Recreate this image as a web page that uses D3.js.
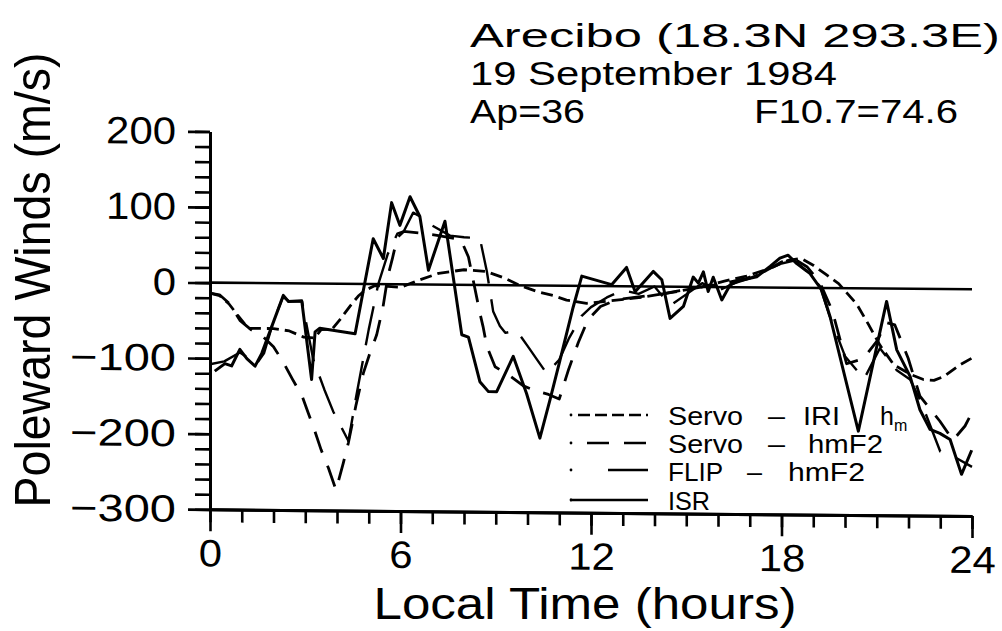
<!DOCTYPE html>
<html>
<head>
<meta charset="utf-8">
<script src="https://cdn.jsdelivr.net/npm/d3@7"></script>
<style>
  html, body { margin: 0; padding: 0; background: #fff; }
  svg { display: block; }
  text { font-family: "Liberation Sans", Arial, sans-serif; fill: #000; }
</style>
</head>
<body>
<svg id="chart" width="1002" height="631"></svg>
<script>
// Axis ticks
const hourTicks = [0, 6, 12, 18, 24];
const windTicks = [200, 100, 0, -100, -200, -300];

// Header text
const siteLabel = "Arecibo (18.3N  293.3E)";
const dateLabel = "19 September 1984";
const apLabel = "Ap=36";
const fluxLabel = "F10.7=74.6";

// Poleward winds (m/s) versus local time (hours)
const isr = [[0.15,-117],[0.47,-107],[0.68,-110],[0.94,-88],[1.16,-100],[1.42,-110],[1.63,-93],[2.31,-16],[2.47,-24],[2.89,-23],[3.2,-127],[3.31,-64],[3.46,-59],[4.57,-66],[5.14,60],[5.46,34],[5.72,108],[5.98,78],[6.3,116],[6.61,90],[6.88,19],[7.4,84],[7.93,-66],[8.14,-69],[8.5,-128],[8.77,-141],[9.03,-141],[9.55,-94],[9.97,-143],[10.39,-202],[10.71,-151],[11.02,-99],[11.44,-28],[11.71,13],[12.65,2],[13.12,25],[13.39,-7],[13.96,20],[14.23,9],[14.49,-42],[14.91,-26],[15.22,13],[15.38,5],[15.54,20],[15.69,-6],[15.85,13],[16.12,-17],[16.38,3],[16.69,9],[17.22,14],[17.64,28],[17.95,39],[18.21,43],[18.48,32],[18.9,19],[19.27,-3],[19.53,-38],[20.42,-189],[21.31,-17],[21.63,-81],[22.05,-116],[22.36,-160],[22.68,-186],[22.99,-191],[23.31,-199],[23.67,-245],[23.99,-213]];

const servoIri = [[0,-14],[0.3,-17],[0.6,-28],[0.95,-47],[1.2,-60],[2.0,-60],[2.5,-63],[2.95,-71],[3.3,-72],[3.5,-61],[3.85,-60],[4.1,-47],[4.4,-30],[4.67,-16],[4.9,-8],[5.2,-2],[5.6,-3],[6.0,-4],[6.6,6],[7.2,15],[8.0,20],[8.7,18],[9.24,10],[9.76,0],[10.3,-8],[10.81,-13],[11.23,-19],[11.86,-23],[12.5,-20],[13.5,-15],[14.5,-8],[15.5,0],[16.2,8],[16.9,15],[17.6,25],[18.2,36],[18.61,39],[19.0,30],[19.4,18],[19.8,6],[20.37,-21],[20.73,-47],[21.1,-75],[21.54,-101],[22.1,-114],[22.47,-120],[22.8,-121],[23.1,-116],[23.62,-100],[24,-91]];

const servoHmf2 = [[0,-14],[0.3,-16],[0.6,-27],[0.95,-50],[1.3,-62],[1.65,-70],[2.0,-84],[2.3,-104],[2.6,-127],[2.9,-149],[3.1,-172],[3.3,-195],[3.5,-220],[3.73,-244],[3.97,-273],[4.2,-237],[4.36,-210],[4.6,-160],[4.83,-118],[5.04,-91],[5.25,-67],[5.45,-30],[5.6,10],[5.75,35],[5.9,62],[6.1,70],[6.6,68],[7.2,65],[7.9,60],[8.14,37],[8.5,-37],[8.6,-55],[8.72,-81],[8.98,-108],[9.45,-120],[9.87,-133],[10.3,-140],[10.66,-144],[11.0,-150],[11.3,-110],[11.6,-75],[11.9,-45],[12.3,-27],[12.8,-18],[13.5,-14],[14.2,-10],[14.8,-5],[15.5,0],[16.2,5],[16.9,12],[17.5,22],[18.0,34],[18.4,38],[18.8,28],[19.2,8],[19.6,-30],[20.05,-100],[20.58,-93],[21.0,-70],[21.3,-45],[21.57,-48],[21.99,-92],[22.36,-142],[22.99,-175],[23.4,-200],[23.78,-181],[24,-163]];

const flipHmf2 = [[0,-108],[0.45,-104],[0.94,-92],[1.16,-98],[1.45,-108],[1.7,-93],[2.0,-50],[2.3,-18],[2.5,-24],[2.9,-24],[3.25,-100],[3.6,-140],[3.88,-169],[4.36,-208],[4.6,-150],[5.0,-60],[5.3,0],[5.6,40],[5.9,67],[6.1,70],[6.4,95],[6.61,90],[7.0,78],[7.56,65],[8.0,63],[8.5,62],[8.72,18],[8.92,-35],[9.13,-54],[9.3,-63],[9.66,-60],[10.0,-80],[10.3,-98],[10.6,-116],[11.0,-98],[11.3,-70],[11.7,-40],[12.0,-28],[12.5,-15],[13.0,-5],[13.5,-10],[14.0,0],[14.5,-25],[15.0,-10],[15.5,5],[16.0,-5],[16.5,5],[17.0,12],[17.5,22],[18.0,32],[18.4,36],[18.8,22],[19.2,3],[19.5,-35],[20.0,-90],[20.6,-120],[21.1,-79],[21.63,-108],[22.05,-120],[22.4,-150],[23.0,-215],[23.4,-221],[24,-235]];

const svg = d3.select("#chart");

const x = d3.scaleLinear().domain([0, 24]).range([210, 972]);
const y = d3.scaleLinear().domain([-300, 200]).range([507.5, 129.7]);

const fmt = v => (v < 0 ? "\u2212" : "") + Math.abs(v);
// Width given to each tick label: digits plus a wide minus sign
const labelWidth = v => String(Math.abs(v)).length * 23.3 + (v < 0 ? 36 : 0);

// Plot area drawn on a slight slant (the whole frame leans about half a degree)
const plot = svg.append("g").attr("transform", "skewY(0.5)");

// ---- y axis ----
const yMinor = plot.append("g").attr("transform", `translate(${x(0)},0)`)
  .call(d3.axisLeft(y).tickValues(d3.range(-300, 201, 20)).tickSize(15).tickSizeOuter(0).tickFormat(""));
const yMajor = plot.append("g").attr("transform", `translate(${x(0)},0)`)
  .call(d3.axisLeft(y).tickValues(windTicks).tickSize(22).tickSizeOuter(0).tickPadding(12).tickFormat(fmt));

// ---- x axis ----
const xMinor = plot.append("g").attr("transform", `translate(0,${y(-300)})`)
  .call(d3.axisBottom(x).tickValues(d3.range(0, 25, 1)).tickSize(13).tickSizeOuter(0).tickFormat(""));
const xMajor = plot.append("g").attr("transform", `translate(0,${y(-300)})`)
  .call(d3.axisBottom(x).tickValues(hourTicks).tickSize(22).tickSizeOuter(0).tickPadding(8).tickFormat(d => d));

[yMinor, yMajor, xMinor, xMajor].forEach(g => {
  g.select(".domain").attr("stroke", "#000").attr("stroke-width", 3);
  g.selectAll(".tick line").attr("stroke", "#000").attr("stroke-width", 2.6);
});
[yMajor, xMajor].forEach(g => g.selectAll(".tick text")
  .attr("font-size", 38)
  .attr("font-family", null)
  .attr("textLength", d => labelWidth(d))
  .attr("lengthAdjust", "spacingAndGlyphs"));

// zero reference line
plot.append("line")
  .attr("x1", x(0)).attr("x2", x(24))
  .attr("y1", y(0)).attr("y2", y(0))
  .attr("stroke", "#000").attr("stroke-width", 2.6);

// ---- series ----
const line = d3.line().x(d => x(d[0])).y(d => y(d[1]));

const series = [
  { name: "Servo", model: "IRI", data: servoIri, dash: "12 6", width: 2.8 },
  { name: "Servo", model: "hmF2", data: servoHmf2, dash: "22 14", width: 2.8 },
  { name: "FLIP", model: "hmF2", data: flipHmf2, dash: "40 16", width: 2.4 },
  { name: "ISR", model: null, data: isr, dash: null, width: 3 }
];

series.forEach(s => {
  plot.append("path")
    .datum(s.data)
    .attr("d", line)
    .attr("fill", "none")
    .attr("stroke", "#000")
    .attr("stroke-width", s.width)
    .attr("stroke-linejoin", "round")
    .attr("stroke-dasharray", s.dash);
});

// ---- text helpers ----
function label(parent, str, px, py, size, width, anchor) {
  return parent.append("text")
    .attr("x", px).attr("y", py)
    .attr("font-size", size)
    .attr("text-anchor", anchor || "start")
    .attr("textLength", width)
    .attr("lengthAdjust", "spacingAndGlyphs")
    .text(str);
}

// ---- header: three lines ----
const header = svg.append("text").attr("font-size", 34);
[
  { s: siteLabel, x: 470, y: 47, w: 530 },
  { s: dateLabel, x: 470, y: 85, w: 367 },
  { s: apLabel, x: 470, y: 123, w: 115 },
  { s: fluxLabel, x: 754, y: 123, w: 204 }
].forEach(t => header.append("tspan")
  .attr("x", t.x).attr("y", t.y)
  .attr("textLength", t.w).attr("lengthAdjust", "spacingAndGlyphs")
  .text(t.s));

// ---- axis titles ----
label(svg, "Local Time (hours)", 585, 619, 44, 423, "middle");
svg.append("g").attr("transform", "translate(50,280) rotate(-90)")
  .call(g => label(g, "Poleward Winds (m/s)", 0, 0, 50, 455, "middle"));

// ---- legend ----
const legend = svg.append("g");
const rowY = [415, 443, 470, 500];
const textY = [425, 453, 481, 510];
const samples = [
  { x1: 578, dash: "12 5" },
  { x1: 587, dash: "22 15" },
  { x1: 608, dash: null },
  { x1: 570, dash: null }
];
series.forEach((s, i) => {
  legend.append("circle").attr("cx", 571).attr("cy", rowY[i]).attr("r", 1.4).attr("fill", "#000");
  legend.append("line")
    .attr("x1", samples[i].x1).attr("x2", 648)
    .attr("y1", rowY[i]).attr("y2", rowY[i])
    .attr("stroke", "#000").attr("stroke-width", 2.6)
    .attr("stroke-dasharray", samples[i].dash);
});
label(legend, "Servo", 668, textY[0], 25, 75);
label(legend, "\u2013", 768, textY[0], 25, 17);
label(legend, "IRI", 803, textY[0], 25, 37);
const hm = legend.append("text").attr("x", 880).attr("y", textY[0]).attr("font-size", 25);
hm.append("tspan").text("h");
hm.append("tspan").attr("font-size", 16).attr("dy", 6).text("m");
label(legend, "Servo", 668, textY[1], 25, 75);
label(legend, "\u2013", 768, textY[1], 25, 17);
label(legend, "hmF2", 808, textY[1], 25, 75);
label(legend, "FLIP", 668, textY[2], 25, 55);
label(legend, "\u2013", 747, textY[2], 25, 15);
label(legend, "hmF2", 788, textY[2], 25, 77);
label(legend, "ISR", 668, textY[3], 25, 42);
</script>
</body>
</html>
